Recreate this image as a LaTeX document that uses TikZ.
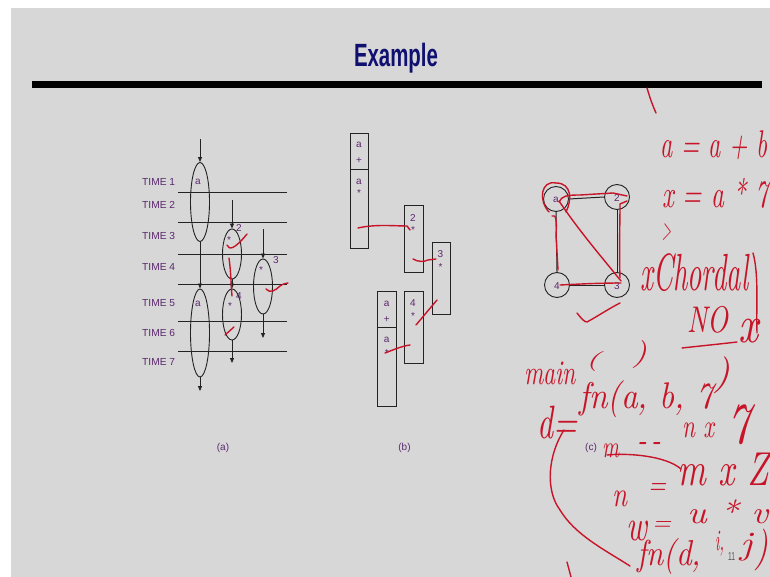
\documentclass[tikz,border=0pt]{standalone}
\usepackage{fontspec}
\usetikzlibrary{shapes.geometric,arrows.meta}
\newfontfamily\arialf{Liberation Sans}
\definecolor{bgc}{RGB}{215,215,215}
\definecolor{purp}{RGB}{92,40,110}
\definecolor{navyc}{RGB}{16,16,112}
\definecolor{hred}{RGB}{200,20,40}
\definecolor{linec}{RGB}{35,35,35}
\newcommand\hwtext[3]{\resizebox*{#1pt}{#2pt}{\itshape #3}}
\tikzset{
  tlab/.style={text=purp, font=\arialf\fontsize{10.2}{12}\selectfont, inner sep=0},
  plab/.style={text=purp, font=\arialf\fontsize{10}{12}\selectfont, inner sep=0},
  ell/.style={draw=linec, ellipse, inner sep=0, line width=0.9pt, minimum width=19pt},
  arr/.style={-{Triangle[length=5pt,width=4pt]}, draw=linec, line width=0.8pt},
  tline/.style={draw=linec, line width=1pt},
  bx/.style={draw=linec, line width=0.9pt, rectangle, inner sep=0},
  gcirc/.style={draw=linec, circle, line width=0.9pt, minimum size=25pt, inner sep=0},
  gedge/.style={draw=linec, line width=1pt},
  hw/.style={text=hred, inner sep=0, anchor=north west},
  rs/.style={draw=hred, line width=1.4pt, line cap=round, line join=round},
}
\begin{document}
\begin{tikzpicture}[x=1pt,y=-1pt]
\useasboundingbox (0,0) rectangle (770,577);
\clip (0,0) rectangle (770,577);
\fill[white] (0,0) rectangle (770,577);
\fill[bgc] (11,8) rectangle (770,577);
% title
\node[inner sep=0, anchor=north, text=navyc] (title) at (396,43) {\resizebox*{84pt}{30pt}{\arialf\bfseries Example}};
\fill[black] (32,81) rectangle (762,88);

% ---------- (a) ----------
\foreach \n/\y in {1/181.5,2/205,3/236,4/266.7,5/303,6/333,7/362}
  \node[tlab, anchor=west] (t\n) at (142,\y) {TIME \n};
\foreach \y in {193,223,254,284,321,351}
  \draw[tline] (178,\y) -- (287,\y);

\node[ell, minimum height=79pt] (e1) at (200,202) {};
\node[ell, minimum height=88pt] (e5) at (200,333) {};
\node[ell, minimum height=50pt] (e2) at (232,254) {};
\node[ell, minimum height=51pt] (e4) at (232,314.5) {};
\node[ell, minimum height=55pt] (e3) at (263,286.5) {};

\coordinate (in1) at (200,139);
\coordinate (out5) at (200,391);
\coordinate (in2) at (232,200);
\coordinate (out4) at (232,363);
\coordinate (in3) at (263,229);
\coordinate (out3) at (263,338);
\draw[arr] (in1) -- (e1.north);
\draw[arr] (e1.south) -- (e5.north);
\draw[arr] (e5.south) -- (out5);
\draw[arr] (in2) -- (e2.north);
\draw[arr] (e2.south) -- (e4.north);
\draw[arr] (e4.south) -- (out4);
\draw[arr] (in3) -- (e3.north);
\draw[arr] (e3.south) -- (out3);

\node[plab, anchor=base] (la1) at (198,185) {a};
\node[plab, anchor=base] (la5) at (198,306) {a};
\node[plab, anchor=base] (l2) at (239,232) {2};
\node[plab, anchor=base] (l3) at (276,263) {3};
\node[plab, anchor=base] (l4) at (239,299) {4};
\node[plab, anchor=north] (s2) at (229,236) {*};
\node[plab, anchor=north] (s3) at (261,266) {*};
\node[plab, anchor=north] (s4) at (230,302.5) {*};

% ---------- (b) ----------
\node[bx, minimum width=18pt, minimum height=36pt] (b1a) at (359,151) {};
\node[bx, minimum width=18pt, minimum height=79pt] (b1b) at (359,208.5) {};
\node[bx, minimum width=19pt, minimum height=67pt] (b2) at (413.5,238.5) {};
\node[bx, minimum width=18pt, minimum height=72pt] (b3) at (441,278) {};
\node[bx, minimum width=19pt, minimum height=72pt] (b4) at (413.5,327) {};
\node[bx, minimum width=19pt, minimum height=36pt] (b5a) at (386.5,309) {};
\node[bx, minimum width=19pt, minimum height=79pt] (b5b) at (386.5,366.5) {};

\node[plab, anchor=base] (ba1) at (359,148) {a};
\node[plab, anchor=base] (bp1) at (359,163.5) {+};
\node[plab, anchor=base] (ba2) at (359,185) {a};
\node[plab, anchor=north] (bs1) at (359,189.5) {*};
\node[plab, anchor=base] (bn2) at (413,221.7) {2};
\node[plab, anchor=north] (bs2) at (413,226.5) {*};
\node[plab, anchor=base] (bn3) at (440.5,257.7) {3};
\node[plab, anchor=north] (bs3) at (440.5,263.5) {*};
\node[plab, anchor=base] (bn4) at (413,306) {4};
\node[plab, anchor=north] (bs4) at (413,312) {*};
\node[plab, anchor=base] (ba3) at (386.7,306.7) {a};
\node[plab, anchor=base] (bp2) at (386.7,322) {+};
\node[plab, anchor=base] (ba4) at (386.7,342.7) {a};
\node[plab, anchor=north] (bs5) at (386.7,349.5) {*};

% ---------- (c) ----------
\node[gcirc] (ga) at (556,199) {};
\node[gcirc] (g2) at (617,197) {};
\node[gcirc] (g4) at (557,285) {};
\node[gcirc] (g3) at (617,285) {};
\draw[gedge] (ga.east) -- (g2.west);
\draw[gedge] (ga.south) -- (g4.north);
\draw[gedge] (g2.south) -- (g3.north);
\draw[gedge] (g4.east) -- (g3.west);
\node[plab] (gla) at (556,200) {a};
\node[plab] (gl2) at (617,198) {2};
\node[plab] (gl4) at (557,286) {4};
\node[plab] (gl3) at (617,286) {3};

% captions
\node[plab] (capa) at (223,448) {(a)};
\node[plab] (capb) at (404.5,448) {(b)};
\node[plab] (capc) at (591,448) {(c)};
\node[inner sep=0, text=black!65, font=\arialf\fontsize{9}{10}\selectfont] (pg) at (731.5,556) {\resizebox*{7pt}{8pt}{11}};

% ---------- red handwriting ----------
\draw[rs] (647,88) .. controls (650,98) and (652,104) .. (656,113);
\node[hw] (h1) at (660,131) {\hwtext{107}{29}{a = a + b}};
\node[hw] (h2) at (662,178) {\hwtext{106}{30}{x = a * 7}};
\node[hw] (h3) at (662,223) {\hwtext{9}{17}{>}};
\node[hw] (h4) at (640,253) {\hwtext{108}{38}{xChordal}};
\draw[rs] (753,253) .. controls (759,275) and (756,305) .. (757,333);
\node[hw] (h5) at (687,306) {\hwtext{41}{27}{NO}};
\draw[rs] (682,348) .. controls (700,346) and (720,344) .. (737,342);
\node[hw] (h6) at (738,319) {\hwtext{20}{24}{x}};
\node[hw] (h7) at (524,362) {\hwtext{52}{23}{main}};
\node[hw] (h8) at (585,351) {\hwtext{15}{20}{(}};
\node[hw] (h9) at (632,340) {\hwtext{15}{28}{)}};
\node[hw] (h10) at (537,406) {\hwtext{40}{33}{d=}};
\node[hw] (h11) at (579,381) {\hwtext{134}{37}{fn(a, b, 7}};
\node[hw] (h12) at (713,357) {\hwtext{17}{37}{)}};
\node[hw] (h13) at (602,444) {\hwtext{17}{14}{m}};
\node[hw] (h14) at (637,442) {\hwtext{24}{9}{-\,-}};
\node[hw] (h15) at (682,423) {\hwtext{32}{15}{n x}};
\node[hw] (h15b) at (727,405) {\hwtext{23}{40}{7}};
\node[hw] (h16) at (612,491) {\hwtext{15}{16}{n}};
\node[hw] (h17) at (648,483) {\hwtext{18}{11}{=}};
\node[hw] (h18) at (677,453) {\hwtext{92}{33}{m x Z}};
\node[hw] (h19) at (626,521) {\hwtext{21}{20}{w}};
\node[hw] (h20) at (652,521) {\hwtext{19}{9}{=}};
\node[hw] (h21) at (687,500) {\hwtext{81}{24}{u * v}};
\node[hw] (h22) at (637,538) {\hwtext{64}{36}{fn(d,}};
\node[hw] (h23) at (715,531) {\hwtext{9}{25}{i,}};
\node[hw] (h24) at (740,533) {\hwtext{12}{28}{j}};
\node[hw] (h25) at (754,529) {\hwtext{14}{42}{)}};
\draw[rs] (564,430) .. controls (548,455) and (545,490) .. (560,510)
          .. controls (575,535) and (605,550) .. (630,566);
\draw[rs] (607,455) .. controls (625,453) and (665,455) .. (681,469);
\draw[rs] (567,562) -- (571,577);

% red marks on (a)
\draw[rs] (227,245) .. controls (229,250) and (234,250) .. (247,234);
\draw[rs] (229,258) .. controls (231,272) and (231,285) .. (232,296);
\draw[rs] (266,289) .. controls (270,294) and (276,290) .. (280,286) .. controls (283,284) and (286,283) .. (288,283);
\draw[rs] (225,335) -- (234,327);

% red marks on (b)
\draw[rs] (358,228) .. controls (375,224) and (395,226) .. (407,226) -- (410,230);
\draw[rs] (413,259) .. controls (418,262) and (424,262) .. (428,260) -- (436,259);
\draw[rs] (416,325) -- (437,300);
\draw[rs] (385,353) .. controls (393,350) and (402,346) .. (410,345);

% red marks on (c)
\draw[rs] (549,212) .. controls (538,200) and (541,180) .. (556,183) .. controls (572,183) and (572,200) .. (566,212);
\draw[rs] (559,202) .. controls (562,196) and (566,195) .. (580,195) -- (613,193) -- (627,196);
\draw[rs] (559,201) .. controls (580,232) and (600,255) .. (621,281);
\draw[rs] (552,216) .. controls (556,214) and (557,220) .. (556,235) -- (558,270);
\draw[rs] (620,278) .. controls (619,250) and (620,225) .. (620,204) -- (627,201);
\draw[rs] (560,285) .. controls (580,284) and (600,283) .. (621,283);
\draw[rs] (577,313) .. controls (581,318) and (584,322) .. (587,322) .. controls (598,316) and (610,308) .. (620,303);
\end{tikzpicture}
\end{document}
